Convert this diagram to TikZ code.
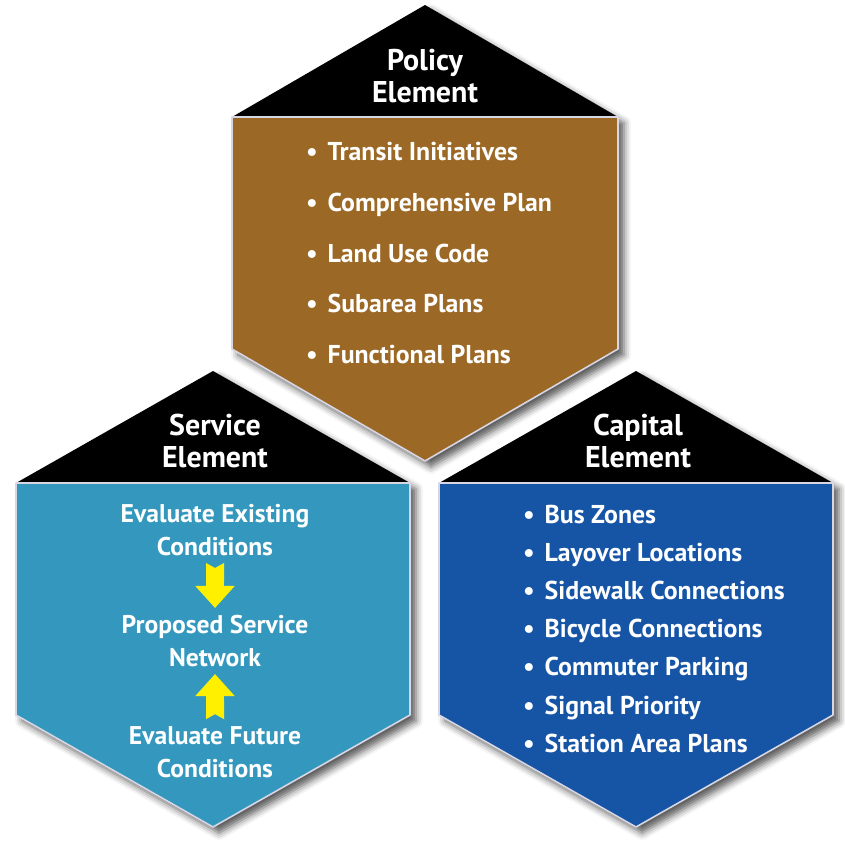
\documentclass[tikz,border=0pt]{standalone}
\usepackage{fontspec}
\setmainfont{PT Sans}
\usetikzlibrary{arrows.meta,shadows.blur}
\definecolor{polbrown}{RGB}{155,104,38}
\definecolor{servteal}{RGB}{52,152,190}
\definecolor{capblue}{RGB}{22,84,166}
\definecolor{rim}{RGB}{214,214,228}
\definecolor{flowyellow}{RGB}{255,240,0}
\begin{document}
\begin{tikzpicture}[x=1pt, y=-1pt, line join=round,
	head/.style={text=white, font=\fontsize{30}{32.5}\selectfont\bfseries, align=center, inner sep=0pt},
	item/.style={text=white, font=\fontsize{25.8}{30}\selectfont\bfseries, anchor=base west, inner sep=0pt},
	flow/.style={text=white, font=\fontsize{25.6}{33}\selectfont\bfseries, align=center, inner sep=2pt},
	bigarrow/.style={draw=flowyellow, line width=18pt, {Triangle Cap[reversed, length=5pt]}-{Triangle[width=38pt, length=22pt]}}]
	\useasboundingbox (0,0) rectangle (845,842);
	% three hexagons, the top one last
	\foreach \cx/\ty/\hw/\col in {213/371/197/servteal, 636/371/197/capblue, 425/5/193/polbrown}{
		\fill[black, blur shadow={shadow xshift=6pt, shadow yshift=-6pt, shadow blur radius=7pt, shadow opacity=65}]
		(\cx,\ty) -- (\cx+\hw,\ty+112) -- (\cx+\hw,\ty+344) -- (\cx,\ty+456) -- (\cx-\hw,\ty+344) -- (\cx-\hw,\ty+112) -- cycle;
		\filldraw[fill=\col, draw=rim, line width=1.6pt]
		(\cx-\hw,\ty+112) -- (\cx+\hw,\ty+112) -- (\cx+\hw,\ty+344) -- (\cx,\ty+456) -- (\cx-\hw,\ty+344) -- cycle;
	}
	\node[head] (polhead) at (425,76) {Policy\\Element};
	\node[head] (servhead) at (215,441) {Service\\Element};
	\node[head] (caphead) at (638,441) {Capital\\Element};
	% lists
	\foreach \t [count=\i] in {Transit Initiatives, Comprehensive Plan, Land Use Code, Subarea Plans, Functional Plans}
		\node[item] (pol\i) at (306,{161+50.5*(\i-1)}) {•\hspace{0.38em}\t};
	\foreach \t [count=\i] in {Bus Zones, Layover Locations, Sidewalk Connections, Bicycle Connections, Commuter Parking, Signal Priority, Station Area Plans}
		\node[item] (cap\i) at (523,{523+38.2*(\i-1)}) {•\hspace{0.38em}\t};
	% service flow
	\node[flow] (exist) at (215,530) {Evaluate Existing\\Conditions};
	\node[flow] (network) at (215,641) {Proposed Service\\Network};
	\node[flow] (future) at (215,752) {Evaluate Future\\Conditions};
	\draw[bigarrow] ([yshift=-5pt]exist.south) -- ([yshift=5pt]network.north);
	\draw[bigarrow] ([yshift=5pt]future.north) -- ([yshift=-5pt]network.south);
\end{tikzpicture}
\end{document}
